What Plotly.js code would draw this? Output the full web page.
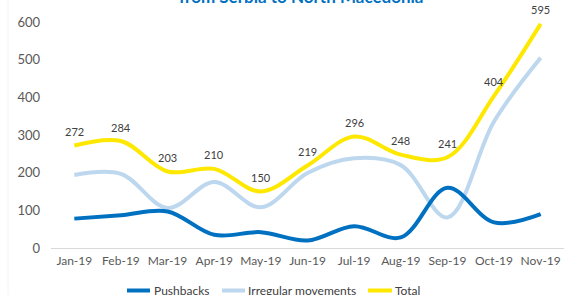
<!DOCTYPE html>
<html>
<head>
<meta charset="utf-8">
<script src="https://cdn.plot.ly/plotly-3.0.1.min.js"></script>
<style>html,body{margin:0;padding:0;background:#fff;}#chart{width:564px;height:295px;}</style>
</head>
<body>
<div id="chart"></div>
<script>
const months = ["Jan-19","Feb-19","Mar-19","Apr-19","May-19","Jun-19","Jul-19","Aug-19","Sep-19","Oct-19","Nov-19"];
const pushbacks = [78, 87, 97, 35, 42, 20, 58, 28, 160, 68, 90];
const irregular = [194, 197, 106, 175, 108, 199, 238, 220, 81, 336, 505];
const total = [272, 284, 203, 210, 150, 219, 296, 248, 241, 404, 595];
const yTicks = [0, 100, 200, 300, 400, 500, 600];
const seriesNames = ["Pushbacks", "Irregular movements", "Total"];
const seriesColors = ["#0070C0", "#BDD7EE", "#FFE800"];

const FONT = "Lato, 'Open Sans', sans-serif";

const traces = [
  {
    x: months, y: irregular, name: seriesNames[1], type: "scatter", mode: "lines",
    line: {color: seriesColors[1], width: 4, shape: "spline", smoothing: 1},
    cliponaxis: false, hoverinfo: "skip", showlegend: false
  },
  {
    x: months, y: pushbacks, name: seriesNames[0], type: "scatter", mode: "lines",
    line: {color: seriesColors[0], width: 4, shape: "spline", smoothing: 1},
    cliponaxis: false, hoverinfo: "skip", showlegend: false
  },
  {
    x: months, y: total, name: seriesNames[2], type: "scatter", mode: "lines",
    line: {color: seriesColors[2], width: 4, shape: "spline", smoothing: 1},
    cliponaxis: false, hoverinfo: "skip", showlegend: false
  }
];

// custom legend (paper coords: x=(px-51)/513, y=(248-py)/226)
const PL = 51, PW = 513, PB = 248, PH = 226;
const px2x = p => (p - PL) / PW;
const py2y = p => (PB - p) / PH;
const legendLineStart = [127, 222, 368];
const legendLineEnd = [150, 245, 392];
const legendTextStart = [152, 246, 393];
const legendY = 290.5;

const shapes = [
  {type: "line", xref: "paper", yref: "paper", x0: px2x(8), x1: px2x(8), y0: py2y(300), y1: py2y(-5),
   line: {color: "#F2F2F2", width: 1}}
];
const annotations = [
  {
    text: "<b>from Serbia to North Macedonia</b>", xref: "paper", yref: "paper",
    x: px2x(301), xanchor: "center", y: py2y(-3), yanchor: "middle", showarrow: false,
    font: {family: FONT, size: 17, color: "#0070C0"}
  }
];
// data labels for Total, placed through the axes
months.forEach((m, i) => {
  annotations.push({x: m, y: total[i], xref: "x", yref: "y", text: String(total[i]),
    showarrow: false, xanchor: "center", yanchor: "middle", yshift: 14,
    font: {family: FONT, size: 11, color: "#404040"}});
});
seriesNames.forEach((n, i) => {
  shapes.push({type: "line", xref: "paper", yref: "paper",
    x0: px2x(legendLineStart[i]), x1: px2x(legendLineEnd[i]),
    y0: py2y(legendY), y1: py2y(legendY),
    line: {color: seriesColors[i], width: 4}});
  annotations.push({text: n, xref: "paper", yref: "paper",
    x: px2x(legendTextStart[i]), xanchor: "left", y: py2y(legendY), yanchor: "middle",
    showarrow: false, font: {family: FONT, size: 12, color: "#404040"}});
});

const layout = {
  width: 564, height: 295,
  margin: {l: 51, r: 0, t: 22, b: 47, autoexpand: false},
  paper_bgcolor: "#ffffff", plot_bgcolor: "#ffffff",
  font: {family: FONT, size: 12, color: "#595959"},
  showlegend: false,
  xaxis: {
    type: "category", range: [-0.5, 10.5], fixedrange: true, automargin: false,
    showgrid: false, zeroline: false, showline: true, linecolor: "#D9D9D9", linewidth: 1,
    ticks: "", ticklabelstandoff: 2, tickfont: {family: FONT, size: 12, color: "#595959"}
  },
  yaxis: {
    range: [0, 600], tickvals: yTicks, ticktext: yTicks.map(String), fixedrange: true, automargin: false,
    showgrid: false, zeroline: false, showline: false, ticks: "",
    ticklabelstandoff: 10,
    tickfont: {family: FONT, size: 13, color: "#595959"}
  },
  annotations: annotations,
  shapes: shapes
};

Plotly.newPlot("chart", traces, layout, {staticPlot: true, displayModeBar: false});
</script>
</body>
</html>
